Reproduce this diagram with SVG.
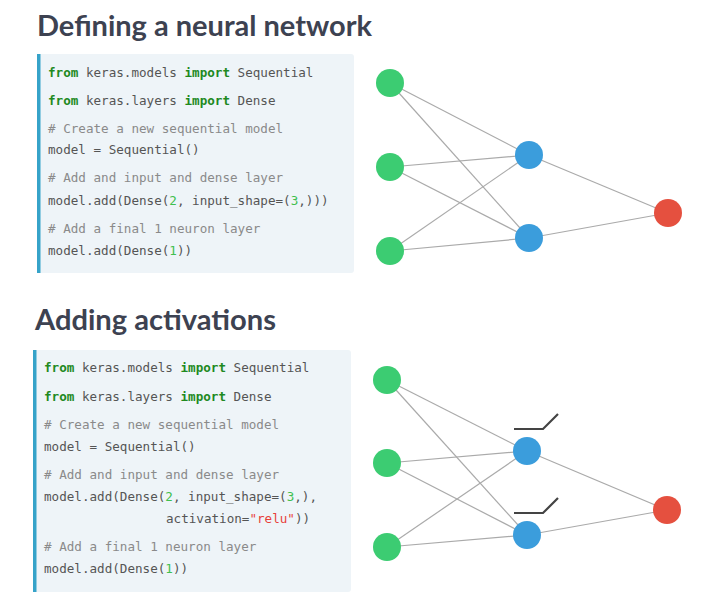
<svg xmlns="http://www.w3.org/2000/svg" width="719" height="602" viewBox="0 0 719 602">
<style>
.title{font-family:Lato,"Open Sans",sans-serif;font-weight:bold;font-size:29px;fill:#3d4251}
.code{font-family:"DejaVu Sans Mono","Liberation Mono",monospace;font-size:12.6px;fill:#555}
.kw{fill:#1f8a1f;font-weight:bold}
.num{fill:#3fbf4f}
.str{fill:#e8403a}
.cm{fill:#8a8a8a}
.box{fill:#eef4f8}
.bar{fill:#36a3c9}
.edge{stroke:#aaaaaa;stroke-width:1.2;fill:none}
.relu{stroke:#444;stroke-width:2.2;fill:none}
.in{fill:#3ccc72}
.hid{fill:#3b9ddc}
.out{fill:#e5503f}
</style>
<text class="title" x="37" y="36" textLength="335" lengthAdjust="spacingAndGlyphs">Defining a neural network</text>
<text class="title" x="35" y="330" textLength="241" lengthAdjust="spacingAndGlyphs">Adding activations</text>

<g id="code1">
<rect class="box" x="37" y="54" width="317" height="219" rx="3"/>
<rect class="bar" x="37" y="54" width="3.5" height="219"/>
<text class="code" x="48" y="77"><tspan class="kw">from</tspan> keras.models <tspan class="kw">import</tspan> Sequential</text>
<text class="code" x="48" y="105"><tspan class="kw">from</tspan> keras.layers <tspan class="kw">import</tspan> Dense</text>
<text class="code cm" x="48" y="133"># Create a new sequential model</text>
<text class="code" x="48" y="154">model = Sequential()</text>
<text class="code cm" x="48" y="182"># Add and input and dense layer</text>
<text class="code" x="48" y="205">model.add(Dense(<tspan class="num">2</tspan>, input_shape=(<tspan class="num">3</tspan>,)))</text>
<text class="code cm" x="48" y="233"># Add a final 1 neuron layer</text>
<text class="code" x="48" y="255">model.add(Dense(<tspan class="num">1</tspan>))</text>
</g>

<g id="code2">
<rect class="box" x="33" y="350" width="318" height="242" rx="3"/>
<rect class="bar" x="33" y="350" width="3.5" height="242"/>
<text class="code" x="44" y="372"><tspan class="kw">from</tspan> keras.models <tspan class="kw">import</tspan> Sequential</text>
<text class="code" x="44" y="401"><tspan class="kw">from</tspan> keras.layers <tspan class="kw">import</tspan> Dense</text>
<text class="code cm" x="44" y="429"># Create a new sequential model</text>
<text class="code" x="44" y="451">model = Sequential()</text>
<text class="code cm" x="44" y="479"># Add and input and dense layer</text>
<text class="code" x="44" y="501">model.add(Dense(<tspan class="num">2</tspan>, input_shape=(<tspan class="num">3</tspan>,),</text>
<text class="code" x="166" y="523">activation=<tspan class="str">"relu"</tspan>))</text>
<text class="code cm" x="44" y="551"># Add a final 1 neuron layer</text>
<text class="code" x="44" y="573">model.add(Dense(<tspan class="num">1</tspan>))</text>
</g>

<g id="connectors">
<line class="edge" x1="390" y1="83" x2="529" y2="155"/>
<line class="edge" x1="390" y1="83" x2="529" y2="238"/>
<line class="edge" x1="390" y1="167" x2="529" y2="155"/>
<line class="edge" x1="390" y1="167" x2="529" y2="238"/>
<line class="edge" x1="390" y1="251" x2="529" y2="155"/>
<line class="edge" x1="390" y1="251" x2="529" y2="238"/>
<line class="edge" x1="529" y1="155" x2="668" y2="213"/>
<line class="edge" x1="529" y1="238" x2="668" y2="213"/>
<line class="edge" x1="387" y1="380" x2="527" y2="451"/>
<line class="edge" x1="387" y1="380" x2="527" y2="535"/>
<line class="edge" x1="387" y1="463" x2="527" y2="451"/>
<line class="edge" x1="387" y1="463" x2="527" y2="535"/>
<line class="edge" x1="387" y1="547" x2="527" y2="451"/>
<line class="edge" x1="387" y1="547" x2="527" y2="535"/>
<line class="edge" x1="527" y1="451" x2="667" y2="510"/>
<line class="edge" x1="527" y1="535" x2="667" y2="510"/>
</g>

<g id="n1a"><circle class="in" cx="390" cy="83" r="14"/></g>
<g id="n1b"><circle class="in" cx="390" cy="167" r="14"/></g>
<g id="n1c"><circle class="in" cx="390" cy="251" r="14"/></g>
<g id="h1a"><circle class="hid" cx="529" cy="155" r="14"/></g>
<g id="h1b"><circle class="hid" cx="529" cy="238" r="14"/></g>
<g id="o1"><circle class="out" cx="668" cy="213" r="14"/></g>

<g id="n2a"><circle class="in" cx="387" cy="380" r="14"/></g>
<g id="n2b"><circle class="in" cx="387" cy="463" r="14"/></g>
<g id="n2c"><circle class="in" cx="387" cy="547" r="14"/></g>
<g id="h2a"><circle class="hid" cx="527" cy="451" r="14"/><polyline class="relu" points="514,429 543,429 558,414"/></g>
<g id="h2b"><circle class="hid" cx="527" cy="535" r="14"/><polyline class="relu" points="514,513 543,513 558,498"/></g>
<g id="o2"><circle class="out" cx="667" cy="510" r="14"/></g>
</svg>
